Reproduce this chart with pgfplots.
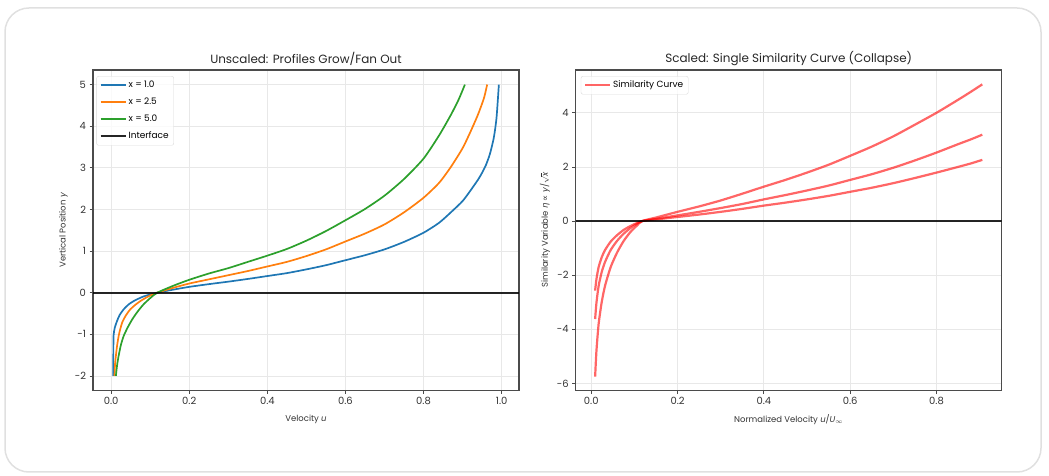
\documentclass[border=0pt]{standalone}
\usepackage{fontspec}
\setmainfont{Poppins}
\newfontfamily\dejavu{DejaVu Sans}
\usepackage{pgfplots}
\pgfplotsset{compat=1.18}

\definecolor{tabblue}{RGB}{31,119,180}
\definecolor{taborange}{RGB}{255,127,14}
\definecolor{tabgreen}{RGB}{44,160,44}
\definecolor{spine}{RGB}{75,75,75}
\definecolor{gridc}{RGB}{232,232,232}

\pgfplotsset{
  panel/.style={
    scale only axis,
    width=426bp, height=320.5bp,
    anchor=south west,
    axis line style={spine, line width=1.1bp},
    tick align=outside, tick pos=left,
    major tick length=3.5bp,
    every tick/.style={spine, line width=0.8bp},
    grid=major,
    major grid style={gridc, line width=0.8bp},
    /pgf/number format/assume math mode=true,
    tick label style={font=\fontsize{10}{12}\selectfont, text=black!80},
    label style={font=\fontsize{8.5}{10}\selectfont, text=black!80},
    xlabel style={yshift=-3bp},
    title style={font=\fontsize{12}{14}\selectfont, text=black!85, yshift=-5bp},
    legend cell align=left,
    legend style={font=\fontsize{9}{10}\selectfont, draw=black!15, fill=white,
      fill opacity=0.8, text opacity=1, rounded corners=2bp,
      inner sep=3bp, row sep=5bp,
      nodes={inner sep=2bp, text height=6.5bp, text depth=1.5bp}},
    legend image code/.code={\draw[##1] (0bp,0bp) -- (25bp,0bp);},
  },
  curve/.style={line width=1.7bp, line join=round, smooth, tension=0.4},
  sim/.style={red, opacity=0.6, line width=2.2bp, line join=round, smooth, tension=0.4},
}

\begin{document}
\begin{tikzpicture}
\useasboundingbox (0bp,0bp) rectangle (1049bp,476bp);
\draw[draw=black!12, line width=1.5bp, rounded corners=24bp] (5bp,4bp) rectangle (1041bp,468bp);

% left panel: unscaled profiles
\begin{axis}[panel,
  at={(93bp,85.5bp)},
  xmin=-0.0466, xmax=1.0446, ymin=-2.35, ymax=5.35,
  xtick={0,0.2,0.4,0.6,0.8,1},
  ytick={-2,-1,0,1,2,3,4,5},
  xticklabel style={/pgf/number format/.cd, fixed, fixed zerofill, precision=1},
  title={Unscaled: Profiles Grow/Fan Out},
  xlabel={Velocity \textit{u}},
  ylabel={Vertical Position \textit{y}},
  legend style={at={(0.008,0.981)}, anchor=north west},
]
\addplot[tabblue, curve] coordinates {
  (0.005,-2.0) (0.0055,-1.5) (0.006,-1.04) (0.009,-0.85) (0.015,-0.68)
  (0.022,-0.53) (0.032,-0.40) (0.045,-0.28) (0.058,-0.20) (0.083,-0.09)
  (0.118,0.0) (0.16,0.075) (0.2,0.14) (0.25,0.205) (0.3,0.265) (0.35,0.33)
  (0.4,0.40) (0.45,0.47) (0.5,0.56) (0.55,0.66) (0.6,0.78) (0.65,0.90)
  (0.7,1.04) (0.75,1.22) (0.8,1.44) (0.84,1.68) (0.87,1.93) (0.9,2.20)
  (0.92,2.45) (0.94,2.72) (0.95,2.88) (0.96,3.07) (0.97,3.33) (0.98,3.72)
  (0.987,4.2) (0.993,5.0)
};
\addlegendentry{x = 1.0}
\addplot[taborange, curve] coordinates {
  (0.0085,-2.0) (0.010,-1.7) (0.015,-1.28) (0.020,-1.0) (0.028,-0.72)
  (0.038,-0.54) (0.049,-0.40) (0.062,-0.29) (0.075,-0.20) (0.095,-0.09)
  (0.118,0.0) (0.16,0.12) (0.2,0.22) (0.25,0.32) (0.3,0.42) (0.35,0.52)
  (0.4,0.63) (0.45,0.74) (0.5,0.88) (0.55,1.04) (0.6,1.23) (0.65,1.42)
  (0.7,1.64) (0.75,1.93) (0.8,2.28) (0.84,2.64) (0.87,3.02) (0.9,3.47)
  (0.92,3.86) (0.94,4.29) (0.955,4.68) (0.963,5.0)
};
\addlegendentry{x = 2.5}
\addplot[tabgreen, curve] coordinates {
  (0.012,-2.0) (0.015,-1.75) (0.019,-1.52) (0.025,-1.25) (0.032,-1.04)
  (0.042,-0.84) (0.054,-0.64) (0.068,-0.45) (0.083,-0.28) (0.1,-0.13)
  (0.118,0.0) (0.16,0.17) (0.2,0.31) (0.25,0.46) (0.3,0.59) (0.35,0.74)
  (0.4,0.89) (0.45,1.05) (0.5,1.25) (0.55,1.48) (0.6,1.74) (0.65,2.01)
  (0.7,2.33) (0.75,2.73) (0.8,3.22) (0.84,3.78) (0.87,4.27) (0.89,4.64)
  (0.906,5.0)
};
\addlegendentry{x = 5.0}
\addplot[black, opacity=0.85, line width=2bp] coordinates {(-0.0466,0) (1.0446,0)};
\addlegendentry{Interface}
\end{axis}

% right panel: scaled similarity curve
\begin{axis}[panel,
  at={(575.7bp,85.5bp)},
  xmin=-0.036, xmax=0.951, ymin=-6.26, ymax=5.58,
  xtick={0,0.2,0.4,0.6,0.8},
  ytick={-6,-4,-2,0,2,4},
  xticklabel style={/pgf/number format/.cd, fixed, fixed zerofill, precision=1},
  title={Scaled: Single Similarity Curve (Collapse)},
  xlabel={Normalized Velocity \textit{u}/\textit{U}$_\infty$},
  ylabel={Similarity Variable {\dejavu\itshape η} {\dejavu ∝} \textit{y}/$\sqrt{\mbox{\itshape x}}$},
  legend style={at={(0.012,0.981)}, anchor=north west},
]
\addplot[sim] coordinates {
  (0.009,-5.75) (0.012,-4.81) (0.017,-3.82) (0.024,-3.02) (0.032,-2.39)
  (0.045,-1.70) (0.06,-1.16) (0.075,-0.74) (0.09,-0.42) (0.105,-0.18)
  (0.118,0.0) (0.15,0.13) (0.2,0.34) (0.25,0.54) (0.3,0.76) (0.35,1.01)
  (0.4,1.27) (0.45,1.52) (0.5,1.79) (0.55,2.08) (0.6,2.41) (0.65,2.75)
  (0.7,3.13) (0.75,3.56) (0.8,4.00) (0.85,4.48) (0.88,4.78) (0.906,5.05)
};
\addlegendentry{Similarity Curve}
\addplot[sim, forget plot] coordinates {
  (0.009,-3.62) (0.012,-3.03) (0.017,-2.41) (0.024,-1.90) (0.032,-1.51)
  (0.045,-1.07) (0.06,-0.73) (0.075,-0.47) (0.09,-0.27) (0.105,-0.11)
  (0.118,0.0) (0.15,0.08) (0.2,0.21) (0.25,0.34) (0.3,0.48) (0.35,0.63)
  (0.4,0.80) (0.45,0.96) (0.5,1.13) (0.55,1.31) (0.6,1.52) (0.65,1.73)
  (0.7,1.97) (0.75,2.24) (0.8,2.53) (0.85,2.84) (0.88,3.02) (0.906,3.19)
};
\addplot[sim, forget plot] coordinates {
  (0.009,-2.57) (0.012,-2.15) (0.017,-1.71) (0.024,-1.35) (0.032,-1.07)
  (0.045,-0.76) (0.06,-0.52) (0.075,-0.33) (0.09,-0.19) (0.105,-0.08)
  (0.118,0.0) (0.15,0.06) (0.2,0.15) (0.25,0.24) (0.3,0.34) (0.35,0.45)
  (0.4,0.57) (0.45,0.68) (0.5,0.80) (0.55,0.93) (0.6,1.08) (0.65,1.23)
  (0.7,1.40) (0.75,1.59) (0.8,1.79) (0.85,2.00) (0.88,2.13) (0.906,2.26)
};
\addplot[black, opacity=0.85, line width=2bp, forget plot] coordinates {(-0.036,0) (0.951,0)};
\end{axis}
\end{tikzpicture}
\end{document}
